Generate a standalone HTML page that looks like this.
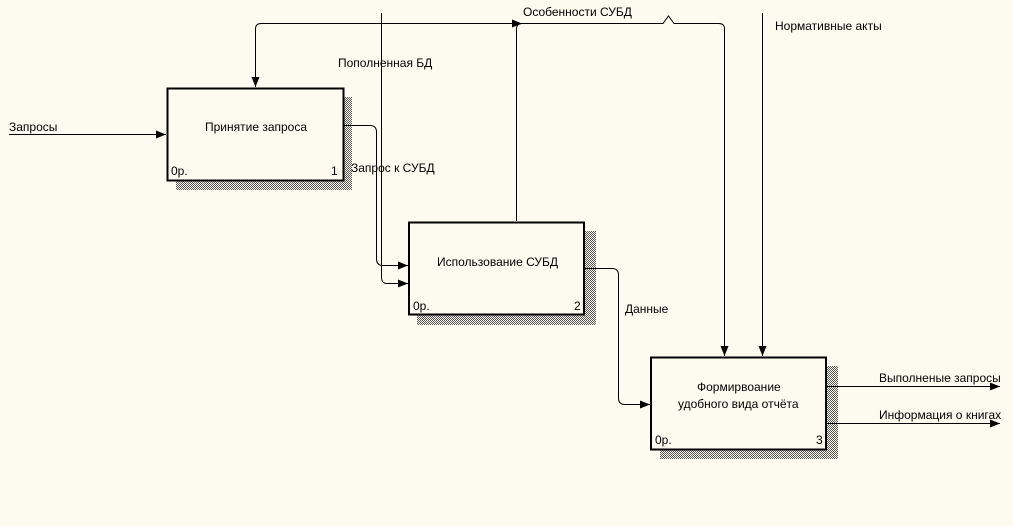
<!DOCTYPE html>
<html><head><meta charset="utf-8"><style>
html,body{margin:0;padding:0;background:#fdfbef;}
svg{display:block;}
text{font-family:"Liberation Sans",sans-serif;font-size:12px;fill:#000;}
</style></head><body>
<svg width="1013" height="526" viewBox="0 0 1013 526" xmlns="http://www.w3.org/2000/svg">
<defs>
<pattern id="h" width="2" height="2" patternUnits="userSpaceOnUse">
<rect width="2" height="2" fill="#fdfbef"/><rect width="1" height="1" fill="#555"/><rect x="1" y="1" width="1" height="1" fill="#555"/>
</pattern>
<marker id="a" markerWidth="10" markerHeight="8" refX="10" refY="4" orient="auto" markerUnits="userSpaceOnUse">
<path d="M0,0 L10,4 L0,8 z" fill="#000"/></marker>
</defs>
<rect width="1013" height="526" fill="#fdfbef"/>
<!-- shadows -->
<rect x="176" y="97" width="176" height="93" fill="url(#h)"/>
<rect x="417" y="231" width="179" height="94" fill="url(#h)"/>
<rect x="660" y="366" width="178" height="93" fill="url(#h)"/>
<!-- boxes -->
<rect x="167.5" y="88.5" width="176" height="92" fill="#fdfbef" stroke="#000" stroke-width="2"/>
<rect x="409" y="222.5" width="175" height="92" fill="#fdfbef" stroke="#000" stroke-width="2"/>
<rect x="651" y="357.5" width="175" height="92" fill="#fdfbef" stroke="#000" stroke-width="2"/>
<g fill="none" stroke="#000" stroke-width="1">
<!-- input -->
<path d="M9,134.5 H166" marker-end="url(#a)"/>
<!-- top control line -->
<path d="M255.5,87 V29 Q255.5,23.5 261,23.5 H663 L668.5,16 L674,23.5 H719 Q724.5,23.5 724.5,29 V356" />
<path d="M255.5,80 V87" marker-end="url(#a)"/>
<path d="M724.5,350 V356" marker-end="url(#a)"/>
<path d="M516.5,221 V29 Q516.5,23.5 522,23.5" marker-end="url(#a)"/>
<path d="M762.5,13 V356" marker-end="url(#a)"/>
<!-- Пополненная БД -->
<path d="M381.5,13 V277 Q381.5,283.5 387,283.5 H408" marker-end="url(#a)"/>
<!-- box1 output -->
<path d="M344,125.5 H370 Q376.5,125.5 376.5,132 V259 Q376.5,265.5 383,265.5 H408" marker-end="url(#a)"/>
<!-- box2 output -->
<path d="M585,268.5 H612 Q618.5,268.5 618.5,275 V398 Q618.5,404.5 625,404.5 H650" marker-end="url(#a)"/>
<!-- box3 outputs -->
<path d="M827,386.5 H1000" marker-end="url(#a)"/>
<path d="M827,423.5 H1000" marker-end="url(#a)"/>
</g>
<text x="9" y="131">Запросы</text>
<text x="205" y="131">Принятие запроса</text>
<text x="171" y="175">0р.</text>
<text x="331" y="175">1</text>
<text x="338" y="67">Пополненная БД</text>
<text x="351" y="172">Запрос к СУБД</text>
<text x="523" y="16">Особенности СУБД</text>
<text x="775" y="30">Нормативные акты</text>
<text x="437" y="266">Использование СУБД</text>
<text x="413" y="310">0р.</text>
<text x="574" y="310">2</text>
<text x="625" y="313">Данные</text>
<text x="697" y="391">Формирвоание</text>
<text x="678" y="408">удобного вида отчёта</text>
<text x="655" y="444">0р.</text>
<text x="816" y="444">3</text>
<text x="879" y="382">Выполненые запросы</text>
<text x="879" y="419">Информация о книгах</text>
</svg>
</body></html>
